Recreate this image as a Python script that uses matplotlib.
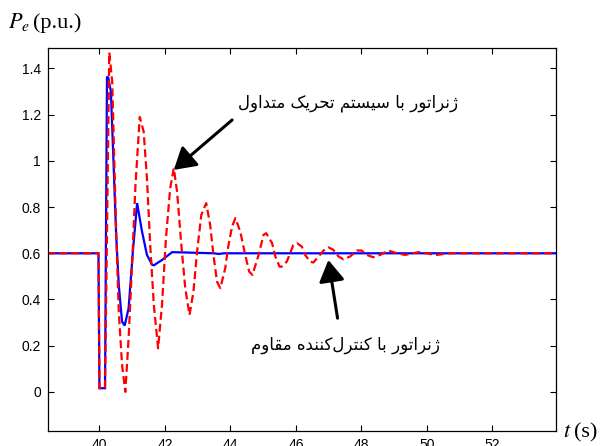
import matplotlib
matplotlib.use("Agg")
import matplotlib.pyplot as plt

# blue: generator with robust controller
t_blue = [38.4, 39.97, 40.0, 40.17, 40.23, 40.27, 40.35, 40.51, 40.59, 40.69, 40.77,
          40.89, 41.02, 41.15, 41.3, 41.45, 41.61, 41.66, 41.91, 42.22, 43.5,
          43.64, 43.8, 53.95]
p_blue = [0.6, 0.6, 0.016, 0.016, 1.365, 1.36, 1.30, 0.68, 0.463, 0.304, 0.287,
          0.362, 0.607, 0.817, 0.694, 0.593, 0.55, 0.548, 0.571, 0.605, 0.6,
          0.597, 0.6, 0.6]

# red dashed: generator with conventional excitation
t_red = [38.4, 39.97, 40.0, 40.17, 40.30, 40.39, 40.44, 40.51, 40.59, 40.69, 40.79,
         40.89, 41.0, 41.1, 41.23, 41.35, 41.45, 41.55, 41.66, 41.79, 41.91,
         42.03, 42.16, 42.27, 42.37, 42.5, 42.62, 42.75, 42.87, 42.98, 43.11,
         43.26, 43.38, 43.48, 43.59, 43.69, 43.84, 43.94, 44.05, 44.15, 44.3,
         44.45, 44.57, 44.67, 44.86, 45.01, 45.09, 45.27, 45.37, 45.5, 45.56,
         45.72, 45.82, 45.92, 46.03, 46.18, 46.28, 46.43, 46.53, 46.69, 46.84,
         46.99, 47.14, 47.3, 47.45, 47.65, 47.86, 48.0, 48.16, 48.36, 48.57,
         48.82, 49.08, 49.33, 49.74, 50.3, 50.65, 53.95]
p_red = [0.6, 0.6, 0.016, 0.016, 1.47, 1.343, 1.07, 0.694, 0.348, 0.117, 0.0,
         0.232, 0.564, 0.896, 1.19, 1.127, 0.925, 0.636, 0.377, 0.189, 0.377,
         0.665, 0.882, 0.968, 0.867, 0.636, 0.449, 0.333, 0.434, 0.607, 0.766,
         0.817, 0.723, 0.593, 0.477, 0.449, 0.535, 0.636, 0.716, 0.752, 0.694,
         0.593, 0.521, 0.506, 0.593, 0.68, 0.687, 0.644, 0.586, 0.542, 0.542,
         0.564, 0.6, 0.636, 0.644, 0.629, 0.593, 0.564, 0.56, 0.586, 0.612,
         0.626, 0.615, 0.586, 0.574, 0.586, 0.612, 0.612, 0.593, 0.583, 0.593,
         0.612, 0.6, 0.593, 0.605, 0.593, 0.6, 0.6]

x_ticks = [40, 42, 44, 46, 48, 50, 52]
y_ticks = [0, 0.2, 0.4, 0.6, 0.8, 1.0, 1.2, 1.4]
y_labels = ["0", "0.2", "0.4", "0.6", "0.8", "1", "1.2", "1.4"]

label_conv = "ژنراتور با سیستم تحریک متداول"
label_robust = "ژنراتور با کنترل\u200cکننده مقاوم"

# contextual forms: isolated, final, initial, medial
FORMS = {
    "ا": ("\uFE8D", "\uFE8E", None, None),
    "ب": ("\uFE8F", "\uFE90", "\uFE91", "\uFE92"),
    "ت": ("\uFE95", "\uFE96", "\uFE97", "\uFE98"),
    "ح": ("\uFEA1", "\uFEA2", "\uFEA3", "\uFEA4"),
    "د": ("\uFEA9", "\uFEAA", None, None),
    "ر": ("\uFEAD", "\uFEAE", None, None),
    "ژ": ("\uFB8A", "\uFB8B", None, None),
    "س": ("\uFEB1", "\uFEB2", "\uFEB3", "\uFEB4"),
    "ق": ("\uFED5", "\uFED6", "\uFED7", "\uFED8"),
    "ک": ("\uFB8E", "\uFB8F", "\uFB90", "\uFB91"),
    "ل": ("\uFEDD", "\uFEDE", "\uFEDF", "\uFEE0"),
    "م": ("\uFEE1", "\uFEE2", "\uFEE3", "\uFEE4"),
    "ن": ("\uFEE5", "\uFEE6", "\uFEE7", "\uFEE8"),
    "ه": ("\uFEE9", "\uFEEA", "\uFEEB", "\uFEEC"),
    "و": ("\uFEED", "\uFEEE", None, None),
    "ی": ("\uFBFC", "\uFBFD", "\uFBFE", "\uFBFF"),
}


def shape(s):
    # join persian letters and put them in visual (left to right) order
    out = []
    for i, ch in enumerate(s):
        if ch not in FORMS:
            if ch != "\u200c":
                out.append(ch)
            continue
        iso, fin, ini, med = FORMS[ch]
        prev = s[i - 1] if i > 0 else ""
        nxt = s[i + 1] if i + 1 < len(s) else ""
        jp = prev in FORMS and FORMS[prev][2] is not None
        jn = nxt in FORMS and ini is not None
        if jp and jn:
            out.append(med)
        elif jp:
            out.append(fin)
        elif jn:
            out.append(ini)
        else:
            out.append(iso)
    return "".join(reversed(out))


plt.rcParams["mathtext.fontset"] = "stix"

fig = plt.figure(figsize=(6.05, 4.46), dpi=100)
ax = fig.add_axes([47.7 / 605, 15.3 / 446, 508 / 605, 383 / 446])

ax.plot(t_blue, p_blue, color="#0000ff", lw=1.6, solid_joinstyle="miter")
ax.plot(t_red, p_red, color="#ff0000", lw=1.6, dashes=(3.6, 1.8))

ax.set_xlim(38.42, 53.93)
ax.set_ylim(-0.168, 1.49)
ax.set_xticks(x_ticks)
ax.set_yticks(y_ticks)
ax.set_yticklabels(y_labels)
ax.tick_params(direction="in", length=4.5, width=0.8, top=True, right=True,
               labelsize=10, pad=5, colors="#000000")
for lab in ax.get_xticklabels() + ax.get_yticklabels():
    lab.set_family("Liberation Sans")
for sp in ax.spines.values():
    sp.set_linewidth(0.9)

arrow = dict(arrowstyle="-|>,head_length=0.5,head_width=0.3", lw=2.2,
             color="k", mutation_scale=26, shrinkA=0, shrinkB=0)
ax.annotate("", xy=(42.27, 0.961), xytext=(44.05, 1.177), arrowprops=arrow)
ax.annotate("", xy=(46.99, 0.571), xytext=(47.27, 0.319), arrowprops=arrow)

ax.text(47.6, 1.251, shape(label_conv), ha="center", va="center",
        fontsize=12, family="DejaVu Sans")
ax.text(47.5, 0.203, shape(label_robust), ha="center", va="center",
        fontsize=12, family="DejaVu Sans")

fig.text(8 / 605, 1 - 28 / 446, r"$P_e$", fontsize=16, va="baseline")
fig.text(33 / 605, 1 - 28 / 446, "(p.u.)", fontsize=16, va="baseline",
         family="Liberation Serif")
fig.text(563 / 605, 1 - 437 / 446, r"$t$", fontsize=16, va="baseline")
fig.text(574 / 605, 1 - 437 / 446, "(s)", fontsize=16, va="baseline",
         family="Liberation Serif")

fig.savefig("out.png", dpi=100)
